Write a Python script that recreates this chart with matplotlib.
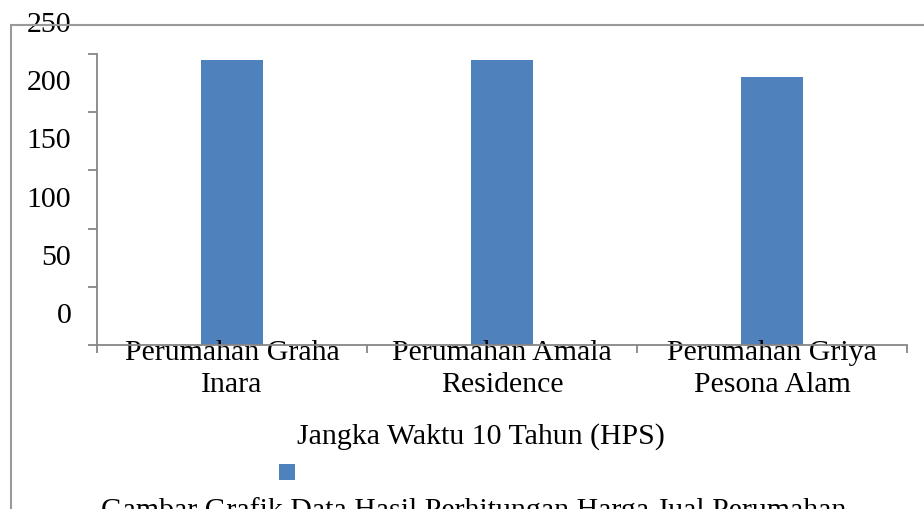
import matplotlib
matplotlib.use("Agg")
import matplotlib.pyplot as plt
from matplotlib.patches import Rectangle
from matplotlib.transforms import ScaledTranslation

plt.rcParams['font.family'] = ['Liberation Serif', 'DejaVu Serif']

# data
categories = ["Perumahan Graha\nInara", "Perumahan Amala\nResidence", "Perumahan Griya\nPesona Alam"]
values = [245, 245, 230]
y_ticks = [0, 50, 100, 150, 200, 250]
axis_title = "Jangka Waktu 10 Tahun (HPS)"
series_name = "Gambar Grafik Data Hasil Perhitungan Harga Jual Perumahan"

bar_color = "#4F81BD"
line_color = "#868686"
fs = 21.5

fig = plt.figure(figsize=(9.24, 5.10), dpi=100)
W, H = 924, 510

# chart border (runs off the right and bottom edges)
fig.patches.append(Rectangle((11 / W, -0.1), 1.2, (510 - 25.5) / H + 0.1,
                             transform=fig.transFigure, fill=False,
                             edgecolor="#9a9a9a", linewidth=1.5))

ax = fig.add_axes([97 / W, (H - 346) / H, (907 - 97) / W, (346 - 55) / H])
x = list(range(len(categories)))
ax.bar(x, values, width=0.233, color=bar_color)

ax.set_xlim(-0.5, len(categories) - 0.5)
ax.set_ylim(0, 250)
ax.set_yticks(y_ticks)
ax.set_yticklabels([str(v) for v in y_ticks], fontsize=fs)
ax.set_xticks(x)
ax.set_xticklabels(categories, fontsize=fs, linespacing=1.27)
ax.set_xticks([i - 0.5 for i in range(len(categories) + 1)], minor=True)

for s in ["top", "right"]:
    ax.spines[s].set_visible(False)
for s in ["left", "bottom"]:
    ax.spines[s].set_color(line_color)
    ax.spines[s].set_linewidth(1.3)

ax.tick_params(axis="y", direction="out", length=6.5, width=1.3, color=line_color, pad=12)
ax.tick_params(axis="x", which="major", length=0, pad=-4)
ax.tick_params(axis="x", which="minor", direction="out", length=6, width=1.3, color=line_color)

# y labels sit half a step above their ticks
offset = ScaledTranslation(0, 0.33, fig.dpi_scale_trans)
for lab in ax.get_yticklabels():
    lab.set_transform(lab.get_transform() + offset)

fig.text(481 / W, (H - 437) / H, axis_title, fontsize=fs, ha="center", va="center")

# legend
fig.patches.append(Rectangle((279 / W, (H - 481) / H), 16 / W, 16 / H,
                             transform=fig.transFigure, facecolor=bar_color, edgecolor="none"))
fig.text(474 / W, (H - 518) / H, series_name, fontsize=fs, ha="center", va="baseline")

fig.savefig("out.png", dpi=100)
